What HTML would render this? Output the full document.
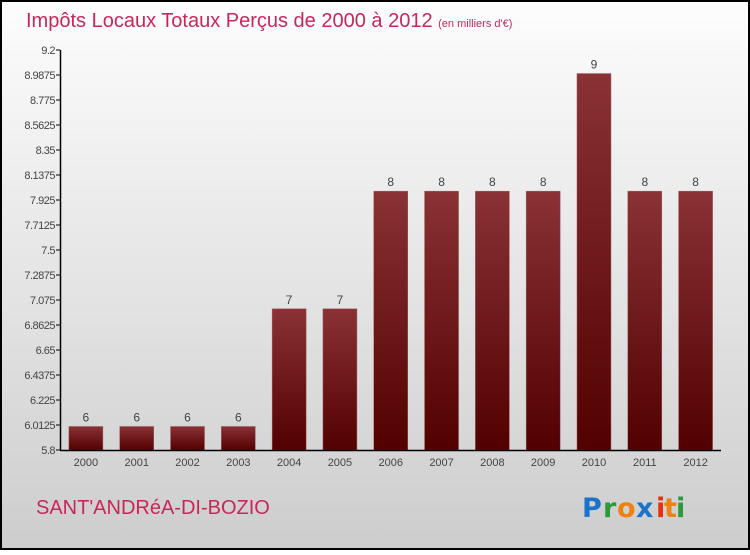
<!DOCTYPE html>
<html><head><meta charset="utf-8"><style>
body{margin:0;width:750px;height:550px;overflow:hidden;font-family:"Liberation Sans",sans-serif}
</style></head><body>
<svg width="750" height="550" xmlns="http://www.w3.org/2000/svg">
<defs>
<linearGradient id="bg" x1="0" y1="0" x2="0" y2="1"><stop offset="0" stop-color="#fdfdfd"/><stop offset="1" stop-color="#cdcdcd"/></linearGradient>
<linearGradient id="bar" x1="0" y1="0" x2="0" y2="1"><stop offset="0" stop-color="#8a3236"/><stop offset="1" stop-color="#520000"/></linearGradient>
</defs>
<rect x="1" y="1" width="748" height="548" fill="url(#bg)" stroke="#000" stroke-width="2"/>
<text x="26" y="27" font-size="20" fill="#c8275a">Impôts Locaux Totaux Perçus de 2000 à 2012 <tspan font-size="11">(en milliers d'€)</tspan></text>
<g id="plot"></g>
<text x="36" y="514" font-size="20" fill="#c8275a">SANT'ANDRéA-DI-BOZIO</text>
<g font-size="27" font-weight="bold" font-family="'DejaVu Sans',sans-serif">
<text x="582" y="517" fill="#1a73c8">P</text><text x="603" y="517" fill="#2a9a3a">r</text><text x="617" y="517" fill="#f08010">o</text><text x="636" y="517" fill="#1a73c8">x</text><text x="656" y="517" fill="#e83010">i</text><text x="664" y="517" fill="#f08010">t</text><text x="676" y="517" fill="#2a9a3a">i</text>
</g>
</svg>
<script>
const categories=["2000","2001","2002","2003","2004","2005","2006","2007","2008","2009","2010","2011","2012"];
const values=[6,6,6,6,7,7,8,8,8,8,9,8,8];
const tickLabels=["5.8","6.0125","6.225","6.4375","6.65","6.8625","7.075","7.2875","7.5","7.7125","7.925","8.1375","8.35","8.5625","8.775","8.9875","9.2"];
const yMin=5.8,yMax=9.2,yTop=50,yBot=450,xLeft=60.5,xRight=721;
const ns="http://www.w3.org/2000/svg",g=document.getElementById("plot");
const y=v=>yBot-(v-yMin)/(yMax-yMin)*(yBot-yTop);
const slot=(xRight-xLeft)/categories.length;
const x=i=>xLeft+slot*(i+0.5);
function mk(t,a,txt){const e=document.createElementNS(ns,t);for(const k in a)e.setAttribute(k,a[k]);if(txt!=null)e.textContent=txt;g.appendChild(e);return e;}
tickLabels.forEach(l=>{const yy=y(parseFloat(l));
const t=mk("line",{x1:56,x2:60,y1:yy,y2:yy,stroke:"#000"});


const tx=mk("text",{x:55,y:yy+4,"text-anchor":"end","font-size":11,fill:"#444","letter-spacing":"-0.5"},l);

});
values.forEach((v,i)=>{const cx=x(i),w=34;
const r=mk("rect",{x:cx-w/2,y:y(v),width:w,height:yBot-y(v),fill:"url(#bar)",stroke:"#a06060","stroke-width":0.5});


const vl=mk("text",{x:cx,y:y(v)-5,"text-anchor":"middle","font-size":12,fill:"#444"},String(v));


const cl=mk("text",{x:cx,y:466,"text-anchor":"middle","font-size":11,fill:"#444"},categories[i]);

});
const ya=mk("line",{x1:60.5,x2:60.5,y1:yTop,y2:yBot,stroke:"#000","stroke-width":1.5});


const xa=mk("line",{x1:60,x2:xRight,y1:yBot+0.5,y2:yBot+0.5,stroke:"#000","stroke-width":1.5});


</script>
</body></html>
